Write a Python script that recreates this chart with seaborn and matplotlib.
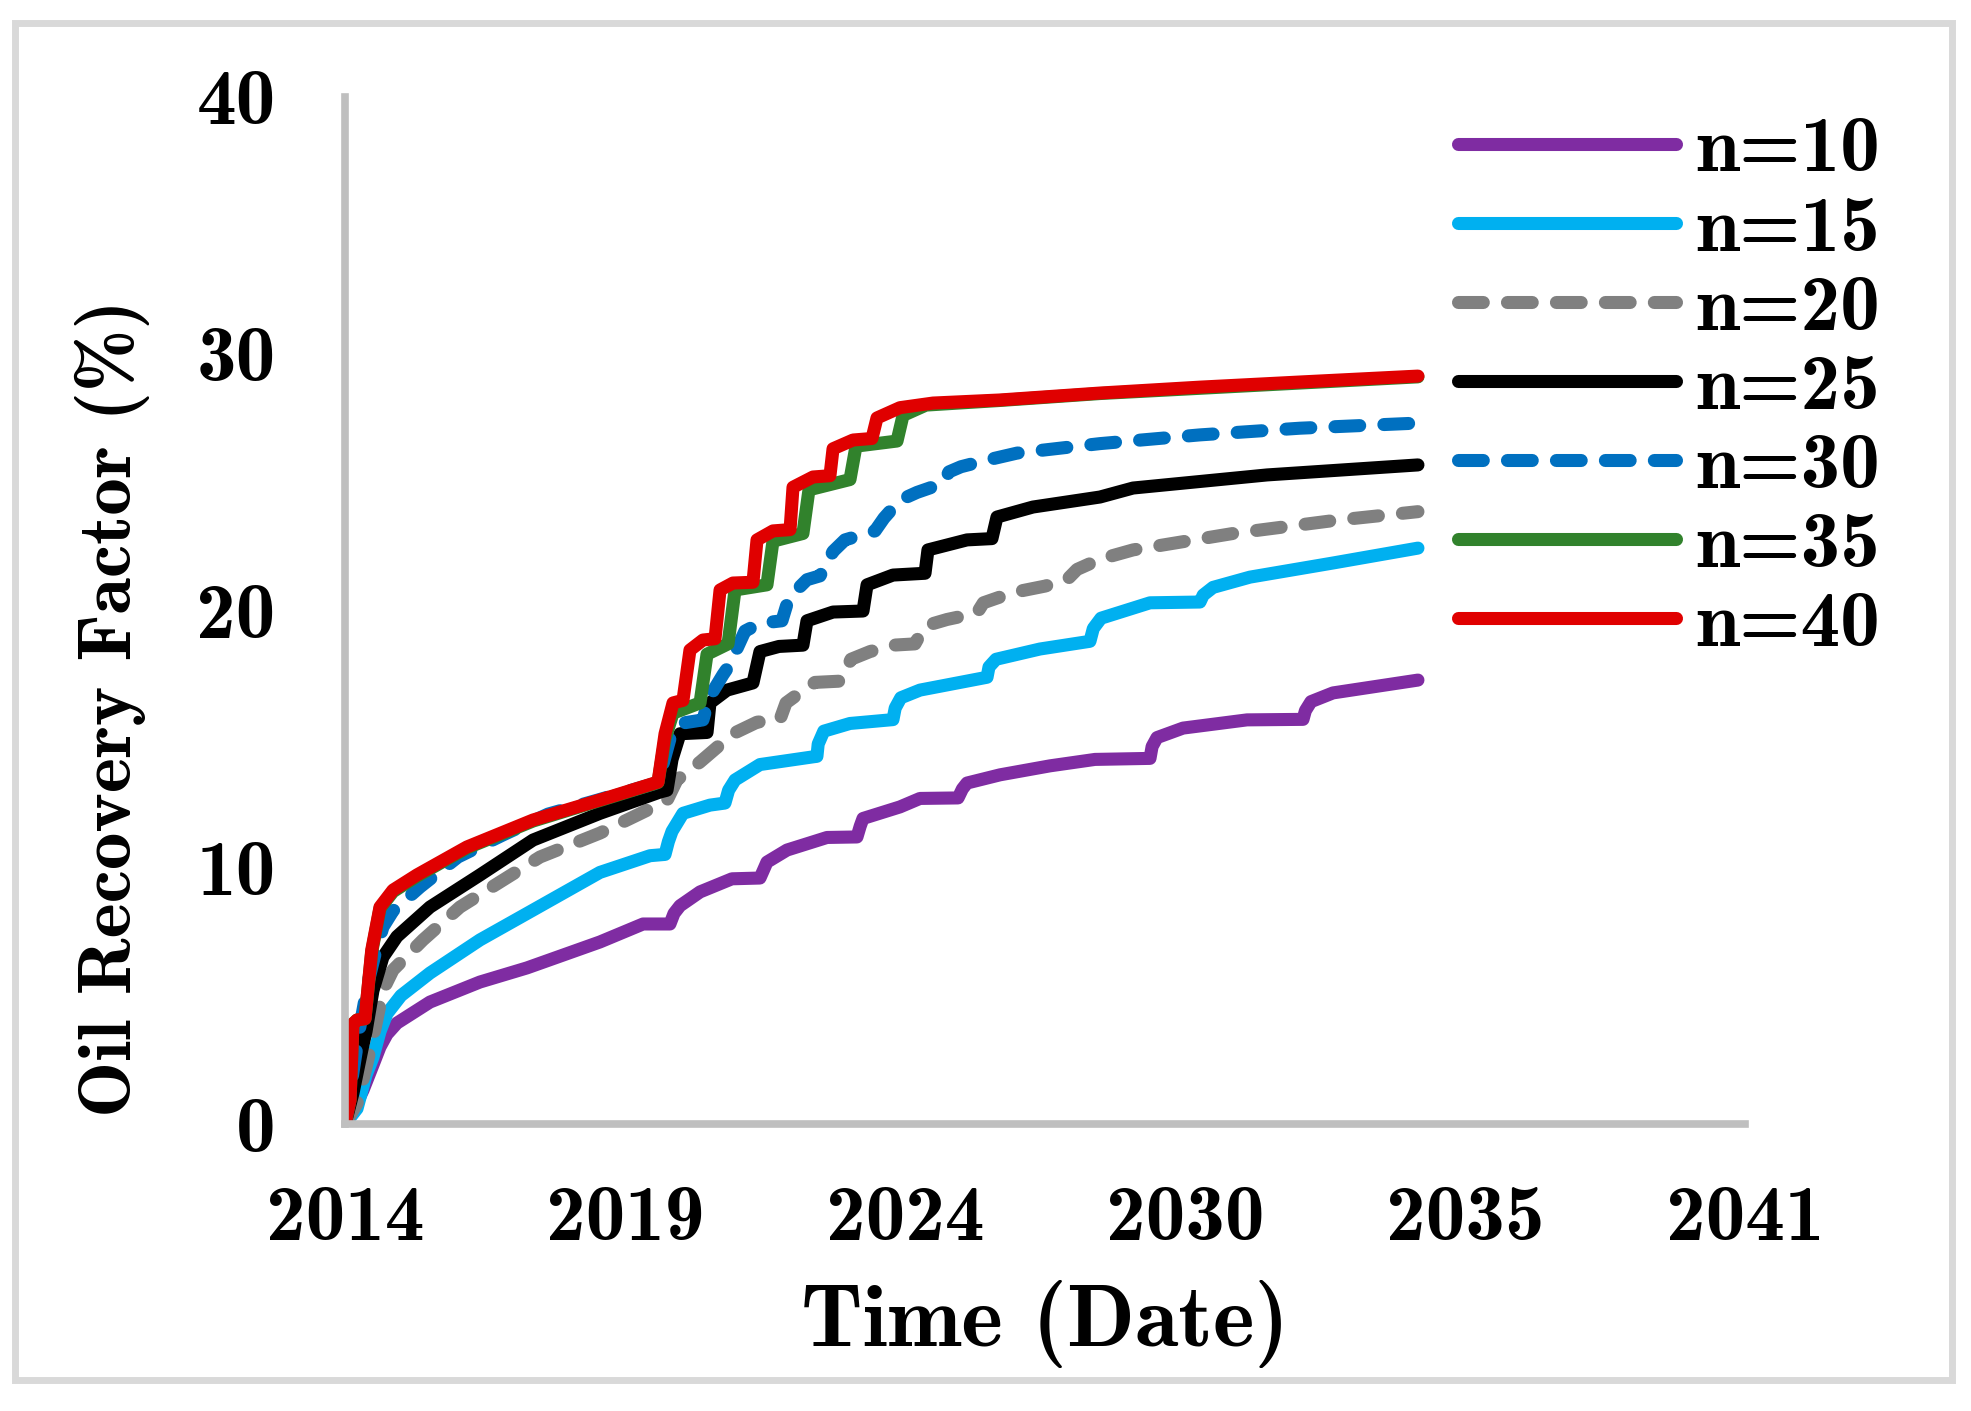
import numpy as np
import pandas as pd
import matplotlib
matplotlib.use('Agg')
import matplotlib.pyplot as plt
from matplotlib.patches import Rectangle
import seaborn as sns

# x = days since the start of the simulation (Jan 2014), y = oil recovery factor (%)
days_n10 = [0, 57, 129, 200, 250, 300, 371, 607, 964, 1300, 1821, 2129, 2321, 2350, 2393, 2536, 2764, 2964,
            2990, 3014, 3157, 3443, 3657, 3680, 3700, 3964, 4107, 4379, 4410, 4443, 4679, 5036, 5357, 5750,
            5765, 5800, 5986, 6443, 6843, 6860, 6900, 7057, 7664]
rf_n10 = [0, 0.5, 1.32, 2.3, 3.0, 3.5, 3.93, 4.75, 5.53, 6.08, 7.09, 7.79, 7.79, 8.2, 8.5, 9.04, 9.55, 9.58,
          9.9, 10.2, 10.67, 11.16, 11.18, 11.6, 11.9, 12.35, 12.68, 12.7, 13.05, 13.28, 13.6, 13.95, 14.2, 14.24,
          14.7, 15.05, 15.42, 15.74, 15.76, 16.1, 16.45, 16.79, 17.29]

days_n15 = [0, 86, 150, 200, 250, 300, 400, 607, 964, 1300, 1821, 2179, 2286, 2310, 2336, 2414, 2607,
            2714, 2740, 2786, 2964, 3343, 3371, 3380, 3420, 3607, 3914, 3930, 3970, 4107, 4586, 4600,
            4650, 4964, 5321, 5345, 5400, 5750, 6107, 6130, 6200, 6464, 7057, 7664]
rf_n15 = [0, 0.6, 1.9, 2.6, 3.6, 4.3, 5.0, 5.88, 7.17, 8.2, 9.8, 10.45, 10.5, 11.0, 11.4, 12.1, 12.42,
          12.5, 13.0, 13.4, 14.0, 14.3, 14.32, 14.8, 15.3, 15.6, 15.75, 16.2, 16.6, 16.9, 17.4, 17.8,
          18.1, 18.5, 18.8, 19.3, 19.7, 20.3, 20.33, 20.6, 20.9, 21.3, 21.85, 22.43]

days_n20 = [0, 86, 150, 214, 271, 343, 557, 821, 1129, 1393, 1821, 2086, 2300, 2371, 2536, 2771, 2943,
            3107, 3150, 3300, 3357, 3543, 3614, 3750, 3914, 4071, 4143, 4300, 4514, 4560, 4771, 5000,
            5157, 5229, 5393, 5629, 6343, 7057, 7664]
rf_n20 = [0, 0.8, 2.2, 3.7, 5.2, 6.0, 7.17, 8.45, 9.5, 10.4, 11.33, 12.03, 12.6, 13.4, 14.1, 15.2, 15.65,
          15.75, 16.4, 17.0, 17.2, 17.25, 18.1, 18.4, 18.65, 18.7, 19.4, 19.65, 19.9, 20.3, 20.7, 20.95,
          21.2, 21.6, 22.0, 22.36, 23.0, 23.5, 23.85]

days_n25 = [0, 57, 121, 150, 200, 271, 371, 607, 964, 1343, 1821, 2250, 2300, 2336, 2393, 2586, 2607,
            2729, 2914, 2964, 3100, 3271, 3300, 3486, 3700, 3729, 3914, 4143, 4164, 4443, 4621, 4657,
            4914, 5393, 5629, 6586, 7664]
rf_n25 = [0, 1.2, 2.9, 3.6, 5.2, 6.5, 7.3, 8.45, 9.7, 11.06, 12.1, 12.93, 13.0, 14.2, 15.2, 15.25, 16.4,
          16.9, 17.18, 18.4, 18.6, 18.65, 19.6, 19.94, 19.98, 21.0, 21.38, 21.45, 22.36, 22.75, 22.8, 23.64,
          24.03, 24.42, 24.77, 25.28, 25.67]

days_n30 = [0, 57, 107, 164, 214, 271, 343, 536, 807, 1129, 1450, 1807, 2236, 2321, 2393, 2557, 2600,
            2700, 2750, 2790, 2857, 2964, 3121, 3171, 3300, 3393, 3486, 3571, 3786, 3850, 3964, 4086,
            4271, 4314, 4400, 4586, 4800, 5393, 6107, 6821, 7664]
rf_n30 = [0, 2.0, 3.8, 5.5, 6.6, 7.67, 8.3, 9.23, 10.4, 11.26, 12.07, 12.62, 13.3, 15.0, 15.6, 15.74, 16.6,
          17.5, 17.9, 18.4, 19.2, 19.5, 19.6, 20.5, 21.2, 21.35, 22.3, 22.75, 23.1, 23.6, 24.3, 24.6,
          24.95, 25.4, 25.6, 25.86, 26.13, 26.5, 26.84, 27.1, 27.3]

days_n35 = [0, 36, 57, 86, 143, 191, 250, 343, 514, 871, 1343, 1821, 2236, 2286, 2343, 2536, 2586,
            2736, 2786, 3014, 3057, 3271, 3314, 3607, 3650, 3943, 3986, 4150, 4679, 5393, 7664]
rf_n35 = [0, 0.93, 3.9, 4.05, 4.1, 6.7, 8.4, 9.05, 9.65, 10.75, 11.8, 12.6, 13.3, 15.0, 16.0, 16.4, 18.3,
          18.7, 20.8, 21.0, 22.7, 23.0, 24.7, 25.1, 26.4, 26.6, 27.6, 28.0, 28.18, 28.45, 29.1]

days_n40 = [0, 36, 57, 86, 143, 191, 250, 343, 514, 871, 1343, 1821, 2236, 2286, 2343, 2414, 2464,
            2557, 2643, 2679, 2771, 2914, 2943, 3057, 3179, 3200, 3343, 3464, 3486, 3629, 3764, 3800,
            3964, 4200, 4679, 5393, 6107, 6821, 7664]
rf_n40 = [0, 0.93, 3.9, 4.05, 4.1, 6.78, 8.45, 9.11, 9.7, 10.79, 11.84, 12.62, 13.32, 15.2, 16.4, 16.5, 18.46,
          18.85, 18.9, 20.8, 21.07, 21.1, 22.75, 23.1, 23.15, 24.8, 25.2, 25.25, 26.3, 26.64, 26.7, 27.5,
          27.9, 28.08, 28.2, 28.47, 28.7, 28.9, 29.13]

series_names = ['n=10', 'n=15', 'n=20', 'n=25', 'n=30', 'n=35', 'n=40']
series_days = [days_n10, days_n15, days_n20, days_n25, days_n30, days_n35, days_n40]
series_rf = [rf_n10, rf_n15, rf_n20, rf_n25, rf_n30, rf_n35, rf_n40]
colors = ['#7F2CA2', '#00B0F0', '#808080', '#000000', '#0070C0', '#31822C', '#E00000']
dashed = [False, False, True, False, True, False, False]

tick_days = [0, 2000, 4000, 6000, 8000, 10000]
year_labels = ['2014', '2019', '2024', '2030', '2035', '2041']
y_ticks = [0, 10, 20, 30, 40]

sns.set_style('white')
plt.rcParams['font.family'] = ['cmb10', 'DejaVu Serif']
plt.rcParams['axes.unicode_minus'] = False
plt.rcParams['text.color'] = 'black'
plt.rcParams['axes.labelcolor'] = 'black'
plt.rcParams['xtick.color'] = 'black'
plt.rcParams['ytick.color'] = 'black'

fig = plt.figure(figsize=(19.71, 14.11), dpi=100)
ax = fig.add_axes([345 / 1971, 1 - 1124 / 1411, 1400 / 1971, (1124 - 97) / 1411])

for name, d, r, c, ds in zip(series_names, series_days, series_rf, colors, dashed):
    df = pd.DataFrame({'day': d, 'rf': r})
    sns.lineplot(data=df, x='day', y='rf', color=c, linewidth=9.4, label=name,
                 estimator=None, sort=False, ax=ax)
    line = ax.lines[-1]
    line.set_solid_capstyle('round')
    line.set_solid_joinstyle('round')
    line.set_dash_capstyle('round')
    if ds:
        line.set_dashes((1.9, 1.85))

ax.set_xlim(0, 10000)
ax.set_ylim(0, 40)
ax.set_xticks(tick_days)
ax.set_xticklabels(year_labels)
ax.set_yticks(y_ticks)
ax.tick_params(axis='both', length=0, labelsize=57, colors='black')
ax.tick_params(axis='y', pad=50)
ax.tick_params(axis='x', pad=44)

for s in ['top', 'right']:
    ax.spines[s].set_visible(False)
for s in ['left', 'bottom']:
    ax.spines[s].set_color('#BFBFBF')
    ax.spines[s].set_linewidth(5.5)

ax.set_xlabel('Time (Date)', fontsize=64, labelpad=18, color='black')
ax.set_ylabel('Oil Recovery Factor (%)', fontsize=54, color='black')
ax.yaxis.set_label_coords(-0.139, 0.405)

handles, labels = ax.get_legend_handles_labels()
leg = ax.legend(handles, labels, loc='upper left', bbox_to_anchor=(1458 / 1971, 1 - 116 / 1411),
                bbox_transform=fig.transFigure, frameon=False, fontsize=57,
                handlelength=2.75, handletextpad=0.25, labelspacing=0.11,
                borderpad=0, borderaxespad=0)
for h in leg.get_lines():
    h.set_linewidth(9.4)
    h.set_solid_capstyle('round')
    h.set_dash_capstyle('round')
for t in leg.get_texts():
    t.set_color('black')

fig.add_artist(Rectangle((15 / 1971, 1 - 1380 / 1411), (1952 - 15) / 1971, (1380 - 23) / 1411,
                         transform=fig.transFigure, fill=False, ec='#D9D9D9', lw=5))

fig.savefig('out.png', dpi=100)
